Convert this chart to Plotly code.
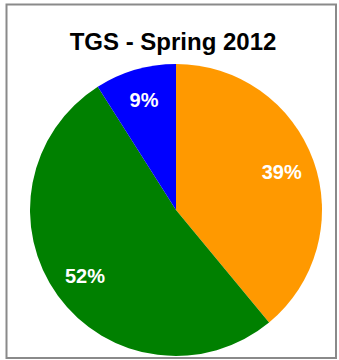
import plotly.graph_objects as go

labels = ["Orange", "Green", "Blue"]
values = [39, 52, 9]
colors = ["#FF9900", "#008000", "#0000FF"]
title_text = "TGS - Spring 2012"

W, H = 339, 360
FONT = "Liberation Sans, Arial, sans-serif"
domain = dict(x=[30 / W, 322 / W], y=[1 - 356 / H, 1 - 64 / H])

fig = go.Figure()
# coloured slices
fig.add_trace(go.Pie(
    labels=labels, values=values, sort=False, direction="clockwise", rotation=0,
    marker=dict(colors=colors, line=dict(width=0)),
    textinfo="none", domain=domain, showlegend=False, hoverinfo="skip",
))
# transparent ring carrying the percentage labels (places them at ~0.77 R)
fig.add_trace(go.Pie(
    labels=labels, values=values, sort=False, direction="clockwise", rotation=0, hole=0.54,
    marker=dict(colors=["rgba(0,0,0,0)"] * len(values), line=dict(width=0)),
    textinfo="percent", texttemplate="%{percent:.0%}", textposition="inside",
    insidetextorientation="horizontal",
    textfont=dict(family=FONT, size=20, color="white", weight="bold"),
    domain=domain, showlegend=False, hoverinfo="skip",
))
fig.update_layout(
    width=W, height=H, margin=dict(l=0, r=0, t=0, b=0),
    paper_bgcolor="white", plot_bgcolor="white",
    title=dict(text="<b>" + title_text + "</b>", x=173 / W, xanchor="center", y=1 - 42 / H, yanchor="middle",
               font=dict(family=FONT, size=24, color="black")),
    shapes=[dict(type="rect", xref="paper", yref="paper", x0=6.5 / W, x1=336 / W, y0=1 - 358 / H, y1=1 - 4.5 / H,
                 line=dict(color="#8a8a8a", width=2), fillcolor="rgba(0,0,0,0)", layer="above")],
)
fig.write_html("out.html", post_script="document.body.style.margin='0';",
               config={"displayModeBar": False})
